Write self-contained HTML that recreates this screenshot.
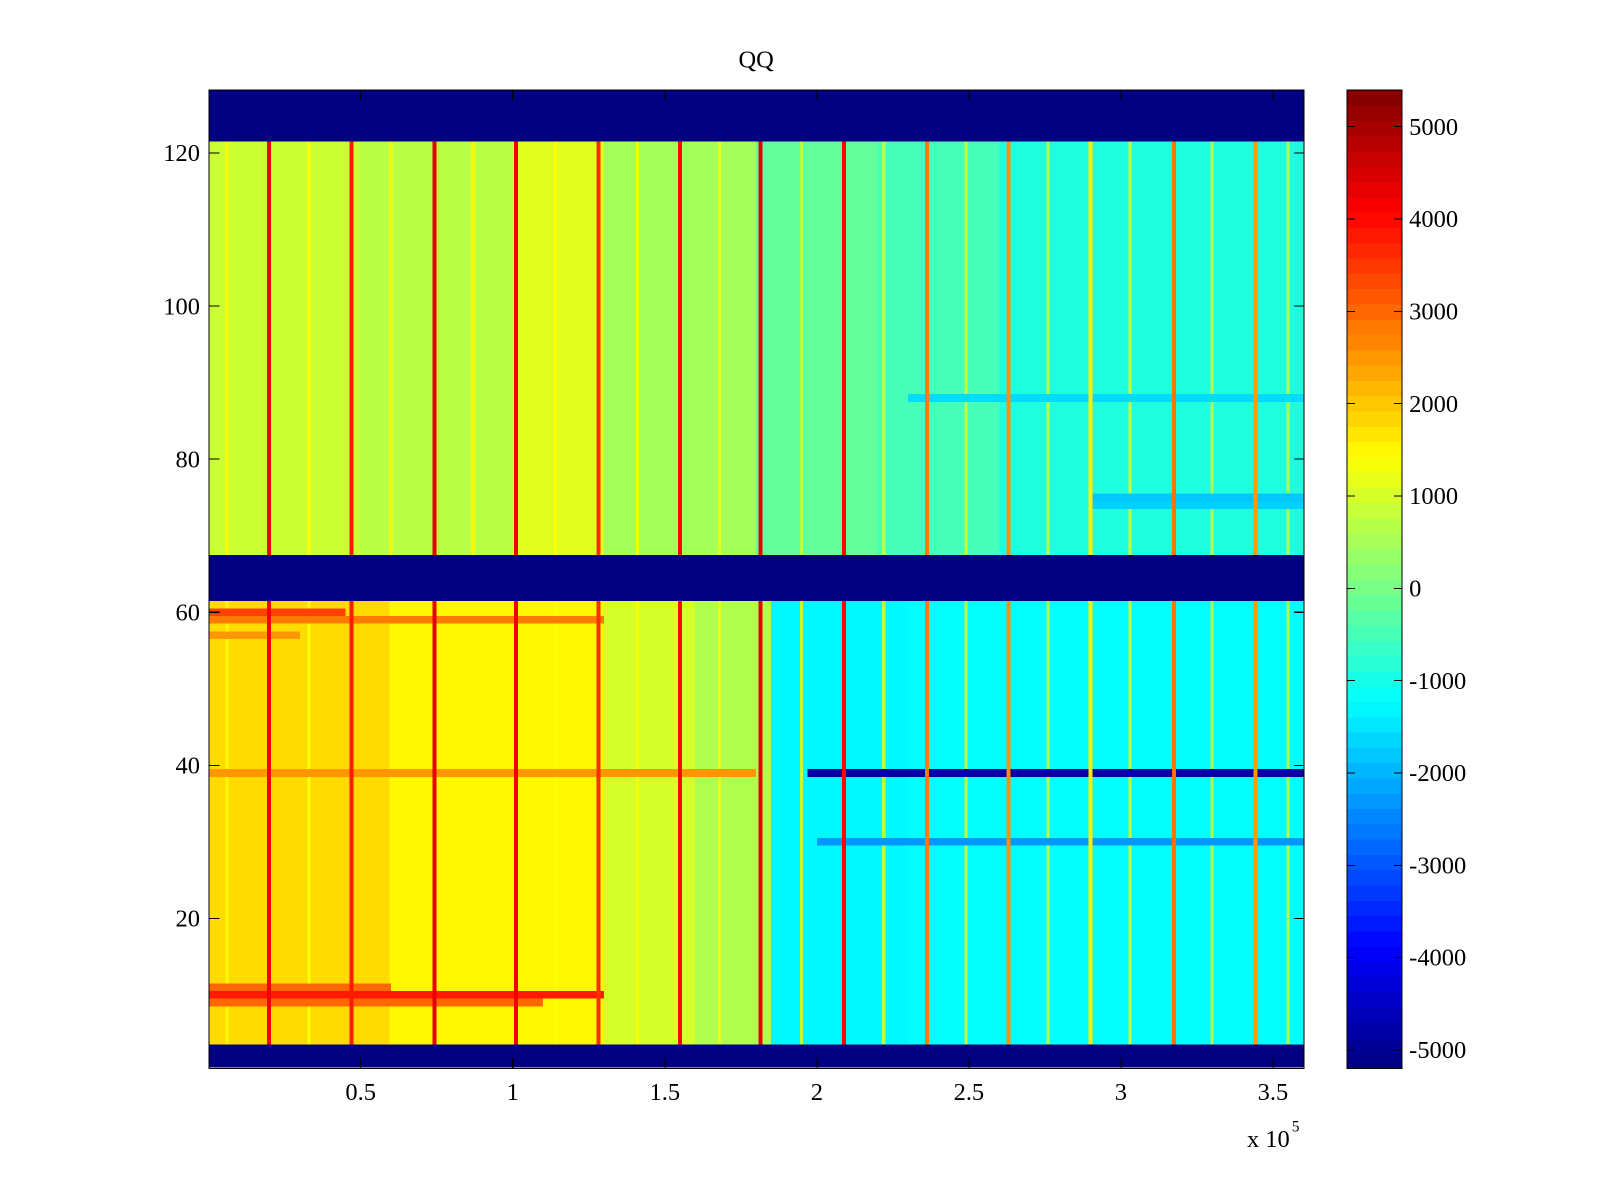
<!DOCTYPE html>
<html><head><meta charset="utf-8"><style>
html,body{margin:0;padding:0;background:#fff;width:1600px;height:1200px;overflow:hidden}
svg text{font-family:"Liberation Serif",serif;font-size:24px;fill:#000}
</style></head><body>
<svg id="chart" width="1600" height="1200" viewBox="0 0 1568 1176" shape-rendering="crispEdges">
<rect width="1568" height="1176" fill="#fff"/>
<text x="741" y="66" text-anchor="middle">QQ</text>
<g id="cells"></g>
<g id="axes"></g>
<g id="cbar"></g>
</svg>
<script>
// ---- data ----
const xBinEdges = [0,0.5,1.0,1.3,1.8,2.2,2.6,3.6]; // x 1e5
const topSectionValues = [900,700,1100,500,-200,-500,-900];
const bottomSectionValues = [1800,1500,1000,600,-1300,-1200,-1200];
const bottomBinEdges = [0,0.6,1.3,1.6,1.85,2.3,2.6,3.6];
const blueRowRanges = [[1,3],[62,67],[122,128]];
const topRows = [68,121];
const bottomRows = [4,61];
const stripeX = [0.198,0.47,0.742,1.01,1.282,1.55,1.815,2.09,2.362,2.63,2.90,3.174,3.443];
const stripeValues = [4200,3800,4300,4200,3600,4000,4300,4000,2800,2600,1600,2900,2500];
const faintStripeX = [0.06,0.33,0.6,0.87,1.14,1.41,1.68,1.95,2.22,2.49,2.76,3.03,3.30,3.55];
const faintStripeValues = [1500,1400,1500,1500,1400,1300,1200,800,700,800,700,800,600,600];
const bandRows = [10,9,11,59,60,57,39,39,30,75,74,88];
const bandX0 = [0,0,0,0,0,0,0,1.97,2.0,2.9,2.9,2.3];
const bandX1 = [1.3,1.1,0.6,1.3,0.45,0.3,1.8,3.6,3.6,3.6,3.6,3.6];
const bandValues = [3800,3000,3000,2800,3400,2500,2500,-4800,-2300,-1800,-1700,-1600];
const tickX = [0.5,1,1.5,2,2.5,3,3.5];
const tickY = [20,40,60,80,100,120];
const cbarTicks = [5000,4000,3000,2000,1000,0,-1000,-2000,-3000,-4000,-5000];
// ---- scales ----
const X0=204.5, XPX=298, PL=205, PR=1278, PT=88, PB=1047;
const sx = v => X0 + v*XPX;
const sy = r => 1050 - r*7.5;          // row center
const VMIN=-5200, VMAX=5400;
function jet(v){
  let t=Math.max(0,Math.min(1,(v-VMIN)/(VMAX-VMIN)));
  const c=x=>Math.round(255*Math.max(0,Math.min(1,x)));
  return `rgb(${c(1.5-Math.abs(4*t-3))},${c(1.5-Math.abs(4*t-2))},${c(1.5-Math.abs(4*t-1))})`;
}
const NS='http://www.w3.org/2000/svg';
function mk(tag,attrs,parent){const e=document.createElementNS(NS,tag);for(const k in attrs)e.setAttribute(k,attrs[k]);parent.appendChild(e);return e;}
const cells=document.getElementById('cells');
function rowRect(r0,r1,x0,x1,v){
  const y0=sy(r1)-3.75,y1=sy(r0)+3.75;
  const a=Math.max(PL,sx(x0)),b=Math.min(PR,sx(x1));
  const e=mk('rect',{x:a,y:Math.max(PT,y0),width:b-a,height:Math.min(PB,y1)-Math.max(PT,y0),fill:jet(v)},cells);
  return e;
}
for(let i=0;i<topSectionValues.length;i++){
  const e=rowRect(topRows[0],topRows[1],xBinEdges[i],xBinEdges[i+1],topSectionValues[i]);
  
  
}
for(let i=0;i<bottomSectionValues.length;i++){
  const e=rowRect(bottomRows[0],bottomRows[1],bottomBinEdges[i],bottomBinEdges[i+1],bottomSectionValues[i]);
  
  
}
for(let i=0;i<faintStripeX.length;i++){
  for(const rr of [topRows,bottomRows]){
    const e=mk('rect',{x:sx(faintStripeX[i])-1.5,y:sy(rr[1])-3.75,width:3,height:(rr[1]-rr[0]+1)*7.5,fill:jet(faintStripeValues[i])},cells);
    
    
  }
}
for(let i=0;i<bandRows.length;i++){
  const e=rowRect(bandRows[i],bandRows[i],bandX0[i],bandX1[i],bandValues[i]);
  
  
}
for(let i=0;i<stripeX.length;i++){
  for(const rr of [topRows,bottomRows]){
    const e=mk('rect',{x:sx(stripeX[i])-2,y:sy(rr[1])-3.75,width:4,height:(rr[1]-rr[0]+1)*7.5,fill:jet(stripeValues[i])},cells);
    
    
  }
}
for(const b of blueRowRanges){
  const e=rowRect(b[0],b[1],0,3.7,-5200);
  
  
}
const ax=document.getElementById('axes');
mk('rect',{x:PL,y:PT,width:PR-PL,height:PB-PT,fill:'none',stroke:'#000','stroke-width':1},ax);
for(const t of tickX){
  const x=sx(t);
  mk('line',{x1:x,x2:x,y1:PB,y2:PB-10,stroke:'#000'},ax);
  mk('line',{x1:x,x2:x,y1:PT,y2:PT+10,stroke:'#000'},ax);
  const l=mk('text',{x:x,y:1078,'text-anchor':'middle'},ax);l.textContent=String(t);
  
  
}
for(const t of tickY){
  const y=sy(t);
  mk('line',{x1:PL,x2:PL+10,y1:y,y2:y,stroke:'#000'},ax);
  mk('line',{x1:PR,x2:PR-10,y1:y,y2:y,stroke:'#000'},ax);
  const l=mk('text',{x:196,y:y+8,'text-anchor':'end'},ax);l.textContent=String(t);
  
  
}
const ex=mk('text',{x:1222,y:1124},ax);ex.textContent='x 10';


const ex2=mk('text',{x:1266,y:1109},ax);ex2.textContent='5';
ex2.style.fontSize='15px';
const cb=document.getElementById('cbar');
const CX=1320,CW=54,N=64;
for(let i=0;i<N;i++){
  const v=VMIN+(i+0.5)*(VMAX-VMIN)/N;
  const y1=PB-(i)*(PB-PT)/N, y0=PB-(i+1)*(PB-PT)/N;
  mk('rect',{x:CX,y:y0,width:CW,height:y1-y0+0.6,fill:jet(v)},cb);
}
mk('rect',{x:CX,y:PT,width:CW,height:PB-PT,fill:'none',stroke:'#000'},cb);
const cy=v=>PB-(v-VMIN)/(VMAX-VMIN)*(PB-PT);
for(const t of cbarTicks){
  const y=cy(t);
  mk('line',{x1:CX,x2:CX+8,y1:y,y2:y,stroke:'#000'},cb);
  mk('line',{x1:CX+CW,x2:CX+CW-8,y1:y,y2:y,stroke:'#000'},cb);
  const l=mk('text',{x:1381,y:y+8},cb);l.textContent=String(t);
  
  
}
</script>
</body></html>
